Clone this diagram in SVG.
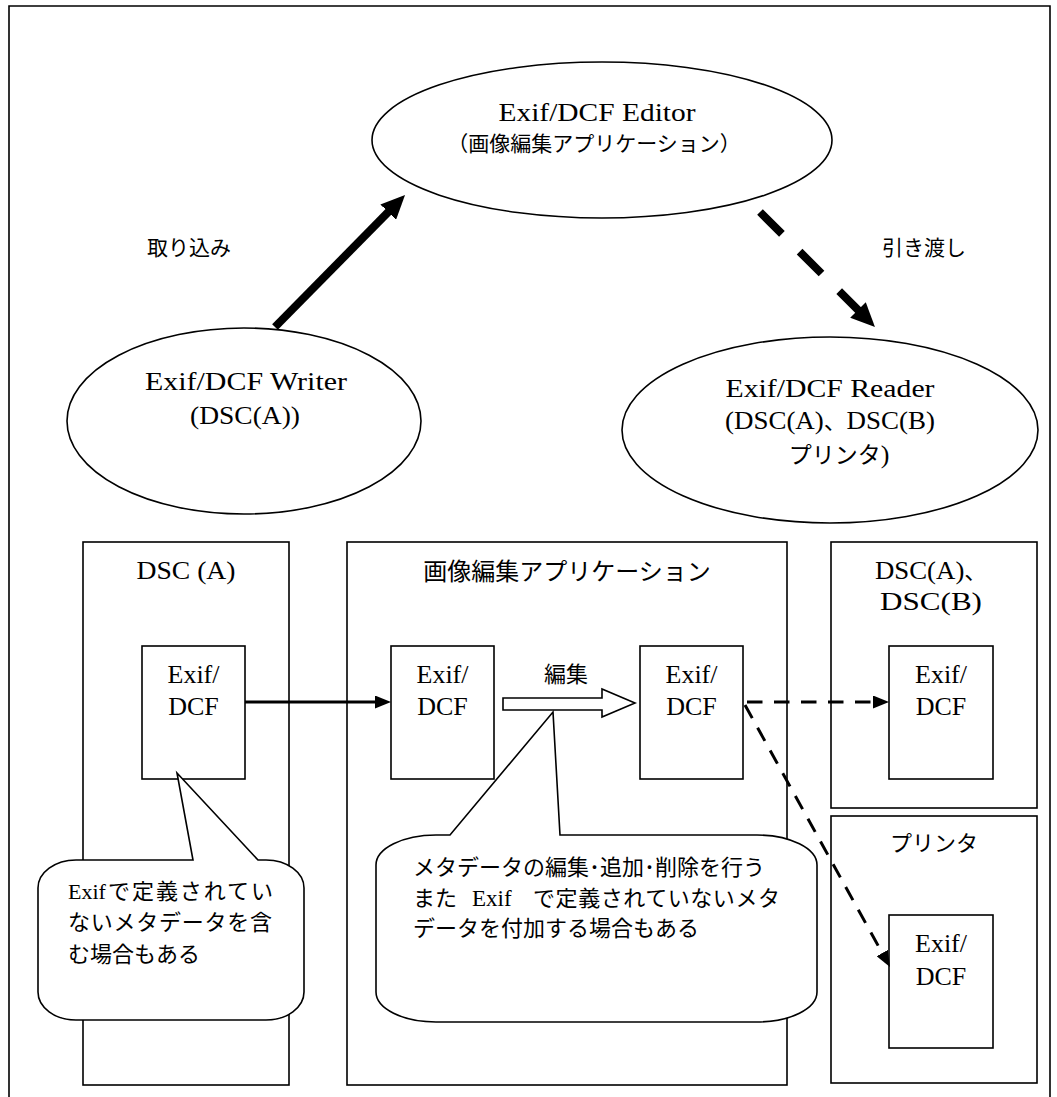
<svg xmlns="http://www.w3.org/2000/svg" width="1057" height="1097" viewBox="0 0 1057 1097">
<style>
.ln{fill:none;stroke:#000;stroke-width:1.6}
.box{fill:#fff;stroke:#000;stroke-width:1.6}
.call{fill:#fff;stroke:#000;stroke-width:1.6;stroke-linejoin:miter}
.sf{font-family:"Liberation Serif",serif;font-size:26px;fill:#000}
.sfs{font-family:"Liberation Serif",serif;font-size:22px;fill:#000}
.jp{font-family:"Noto Sans CJK JP",sans-serif;font-size:22px;fill:#000}
.jp21{font-family:"Noto Sans CJK JP",sans-serif;font-size:21px;fill:#000}
.jp24{font-family:"Noto Sans CJK JP",sans-serif;font-size:24px;fill:#000}
.mid{text-anchor:middle}
.big{stroke:#000;stroke-width:8;fill:none}
.thin{stroke:#000;stroke-width:3;fill:none}
</style>
<defs>
<marker id="headBig" markerUnits="userSpaceOnUse" viewBox="0 0 24 22" markerWidth="24" markerHeight="22" refX="1" refY="11" orient="auto">
<path d="M0,0 L24,11 L0,22 z" fill="#000"/>
</marker>
<marker id="headSmall" markerUnits="userSpaceOnUse" viewBox="0 0 16 13" markerWidth="16" markerHeight="13" refX="1" refY="6.5" orient="auto">
<path d="M0,0 L16,6.5 L0,13 z" fill="#000"/>
</marker>
</defs>
<rect width="1057" height="1097" fill="#fff"/>
<path id="frame" class="ln" d="M9,1097 V6 H1050 V1097"/>

<g id="editor">
<ellipse class="box" cx="602" cy="140" rx="230" ry="78"/>
<text class="sf mid" x="597" y="121" textLength="197" lengthAdjust="spacingAndGlyphs">Exif/DCF Editor</text>
<text class="jp21 mid" x="594" y="151">（画像編集アプリケーション）</text>
</g>
<g id="writer">
<ellipse class="box" cx="244" cy="421" rx="177" ry="93"/>
<text class="sf mid" x="246" y="390" textLength="202" lengthAdjust="spacingAndGlyphs">Exif/DCF Writer</text>
<text class="sf mid" x="245" y="424" textLength="110" lengthAdjust="spacingAndGlyphs">(DSC(A))</text>
</g>
<g id="reader">
<ellipse class="box" cx="830" cy="430" rx="208" ry="93"/>
<text class="sf mid" x="830" y="397" textLength="209" lengthAdjust="spacingAndGlyphs">Exif/DCF Reader</text>
<text class="sf mid" x="830" y="429" textLength="210" lengthAdjust="spacingAndGlyphs">(DSC(A)<tspan class="jp">、</tspan>DSC(B)</text>
<text class="sf mid" x="839" y="463"><tspan class="jp" style="font-size:23px">プリンタ</tspan>)</text>
</g>
<g id="label-import"><text class="jp21" x="147" y="255">取り込み</text></g>
<g id="label-handover"><text class="jp21" x="882" y="255">引き渡し</text></g>

<g id="dsc-a">
<rect class="box" x="83" y="542" width="206" height="543"/>
<text class="sf mid" x="186" y="579" textLength="99" lengthAdjust="spacingAndGlyphs">DSC (A)</text>
</g>
<g id="dsc-a-file">
<rect class="box" x="142" y="646" width="103" height="133"/>
<text class="sf mid" x="193.5" y="683">Exif/</text>
<text class="sf mid" x="193.5" y="715">DCF</text>
</g>

<g id="app">
<rect class="box" x="347" y="542" width="440" height="543"/>
<text class="jp24 mid" x="567" y="580">画像編集アプリケーション</text>
</g>
<g id="app-file-in">
<rect class="box" x="391" y="646" width="103" height="133"/>
<text class="sf mid" x="442.5" y="683">Exif/</text>
<text class="sf mid" x="442.5" y="715">DCF</text>
</g>
<g id="app-file-out">
<rect class="box" x="640" y="646" width="103" height="133"/>
<text class="sf mid" x="691.5" y="683">Exif/</text>
<text class="sf mid" x="691.5" y="715">DCF</text>
</g>

<g id="dsc-ab">
<rect class="box" x="831" y="542" width="206" height="266"/>
<text class="sf" x="875" y="579" textLength="112" lengthAdjust="spacingAndGlyphs">DSC(A)<tspan class="jp">、</tspan></text>
<text class="sf mid" x="931" y="610" textLength="102" lengthAdjust="spacingAndGlyphs">DSC(B)</text>
</g>
<g id="dsc-ab-file">
<rect class="box" x="889" y="646" width="104" height="133"/>
<text class="sf mid" x="941" y="683">Exif/</text>
<text class="sf mid" x="941" y="715">DCF</text>
</g>

<g id="printer">
<rect class="box" x="831" y="816" width="206" height="267"/>
<text class="jp mid" x="934" y="851">プリンタ</text>
</g>
<g id="printer-file">
<rect class="box" x="889" y="915" width="104" height="133"/>
<text class="sf mid" x="941" y="952">Exif/</text>
<text class="sf mid" x="941" y="985">DCF</text>
</g>

<g id="callout-dsc">
<path class="call" d="M76,860 H193 L177,773 L258,860 H266 A38,28 0 0 1 304,888 V992 A38,28 0 0 1 266,1020 H76 A38,28 0 0 1 38,992 V888 A38,28 0 0 1 76,860 Z"/>
<text class="sfs" x="68" y="899">Exif</text>
<text class="jp" x="108" y="899" textLength="165">で定義されてい</text>
<text class="jp" x="68" y="930" textLength="204">ないメタデータを含</text>
<text class="jp" x="68" y="962">む場合もある</text>
</g>

<g id="callout-app">
<path class="call" d="M436,835 H450 L553,712 L560,835 H757 A60,30 0 0 1 817,865 V992 A60,30 0 0 1 757,1022 H436 A60,30 0 0 1 376,992 V865 A60,30 0 0 1 436,835 Z"/>
<text class="jp" x="413" y="875" textLength="352" lengthAdjust="spacingAndGlyphs">メタデータの編集･追加･削除を行う</text>
<text class="jp" x="413" y="906">また</text>
<text class="sfs" x="472" y="906" style="font-size:23px">Exif</text>
<text class="jp" x="533" y="906" textLength="247">で定義されていないメタ</text>
<text class="jp" x="413" y="936">データを付加する場合もある</text>
</g>

<g id="connectors">
<line class="big" x1="275" y1="327" x2="388.9" y2="211.4" marker-end="url(#headBig)"/>
<line class="big" x1="760" y1="212" x2="858.7" y2="310.7" stroke-dasharray="31 25" marker-end="url(#headBig)"/>
<line class="thin" x1="245" y1="702" x2="376" y2="702" marker-end="url(#headSmall)"/>
<line class="thin" x1="743" y1="702" x2="874" y2="702" stroke-dasharray="15.5 11.5" stroke-dashoffset="23" marker-end="url(#headSmall)"/>
<line class="thin" x1="745" y1="705" x2="882.7" y2="953.9" stroke-dasharray="15 11" marker-end="url(#headSmall)"/>
<polygon id="edit-arrow" class="box" points="503,698 602,698 602,689 635,703 602,717 602,710 503,710"/>
<text class="jp mid" x="566" y="682">編集</text>
</g>
</svg>
